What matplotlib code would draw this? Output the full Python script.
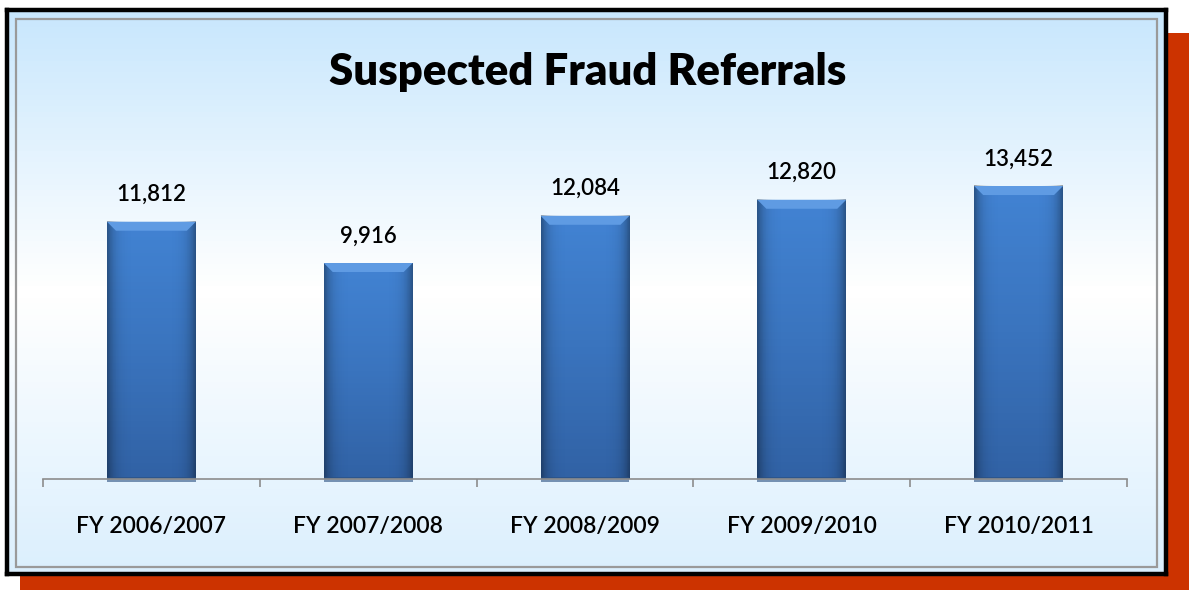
import numpy as np
import matplotlib
matplotlib.use('agg')
from matplotlib import pyplot as plt
from matplotlib.patches import Rectangle, Polygon
from matplotlib.colors import LinearSegmentedColormap

# Data
years = ['FY 2006/2007', 'FY 2007/2008', 'FY 2008/2009', 'FY 2009/2010', 'FY 2010/2011']
referrals = [11812, 9916, 12084, 12820, 13452]
title = 'Suspected Fraud Referrals'

W, H = 1189, 590
FONT = ['Lato', 'DejaVu Sans']
plt.rcParams['font.family'] = FONT


def fx(px):
    return px / W


def fy(py):
    # pixel row (from top) -> figure fraction
    return 1 - py / H


fig = plt.figure(figsize=[W / 100, H / 100], dpi=100)
fig.patch.set_facecolor('white')

# Red drop shadow behind the box
fig.patches.append(Rectangle((fx(20), 0), fx(W - 20), fy(33), transform=fig.transFigure,
                             facecolor='#CC3300', edgecolor='none', zorder=0))

# Box with vertical gradient (blue - white - blue)
bg = fig.add_axes([fx(7), fy(574), fx(1166 - 7), (574 - 10) / H], zorder=1)
grad = np.concatenate([np.linspace(0, 1, 50), np.linspace(1, 0.35, 50)])[:, None]
bgcmap = LinearSegmentedColormap.from_list('bg', ['#C8E7FD', '#FFFFFF'])
bg.imshow(grad, aspect='auto', cmap=bgcmap, extent=[0, 1, 0, 1], origin='upper', vmin=0, vmax=1)
bg.set_xticks([])
bg.set_yticks([])
for s in bg.spines.values():
    s.set_color('black')
    s.set_linewidth(3.2)
# inner grey frame
bg.add_patch(Rectangle((9 / 1159, 7 / 564), 1141 / 1159, 548 / 564, transform=bg.transAxes,
                       facecolor='none', edgecolor='#9A9A9A', lw=1.6))

# Title
fig.text(0.494, fy(72), title, ha='center', va='center', fontsize=31.5, fontweight='heavy',
         color='black', zorder=5)

# Main bar axes
ymax = 16000
ax = fig.add_axes([fx(43), fy(479), fx(1127 - 43), (479 - 130.5) / H], zorder=2)
ax.patch.set_alpha(0)
x = np.arange(len(years))
bars = ax.bar(x, referrals, width=0.41, color='#3A78C4', edgecolor='none', zorder=2)
ax.set_xlim(-0.5, len(years) - 0.5)
ax.set_ylim(0, ymax)

# bar shading: lighter at the top, darker near the base
bar_cmap = LinearSegmentedColormap.from_list('bar', ['#3162A5', '#3A74BE', '#4283D3'])
px_y = ymax / 348.5      # data units per pixel (y)
px_x = 5 / 1084          # data units per pixel (x)
for b in bars:
    x0, w, h = b.get_x(), b.get_width(), b.get_height()
    gy = np.linspace(0, 1, 80)[:, None] * np.ones((1, 2))
    img = ax.imshow(gy, cmap=bar_cmap, aspect='auto', origin='lower',
                    extent=[x0, x0 + w, 0, h], zorder=2.1, vmin=0, vmax=1)
    img.set_clip_path(b)
    # soft edges left/right
    edge = np.abs(np.linspace(-1, 1, 60)) ** 6 * 0.35
    ax.imshow(np.dstack([np.zeros((2, 60, 3)), np.repeat(edge[None, :], 2, axis=0)]),
              aspect='auto', extent=[x0, x0 + w, 0, h], zorder=2.2)
    # bevel on top
    dx = 9 * px_x
    dy = 9 * px_y
    ax.add_patch(Polygon([[x0, h], [x0 + w, h], [x0 + w - dx, h - dy], [x0 + dx, h - dy]],
                         closed=True, facecolor='#5F9BE3', edgecolor='none', zorder=2.3))
    # shadow at the base
    ax.add_patch(Rectangle((x0, -3 * px_y), w, 5 * px_y, facecolor='#2A4F80', alpha=0.6,
                           edgecolor='none', zorder=2.4, clip_on=False))
    ax.annotate(f'{h:,.0f}', (x0 + w / 2, h), xytext=(0, 12), textcoords='offset points',
                ha='center', va='bottom', fontsize=16, fontweight='semibold', color='black')

for s in ['top', 'right', 'left']:
    ax.spines[s].set_visible(False)
ax.spines['bottom'].set_color('#8C8C8C')
ax.spines['bottom'].set_linewidth(1.2)
ax.set_yticks([])
ax.set_xticks(x)
ax.set_xticklabels(years, fontsize=16.5, fontweight='semibold', color='black')
ax.tick_params(axis='x', which='major', length=0, pad=27)
ax.set_xticks(np.arange(len(years) + 1) - 0.5, minor=True)
ax.tick_params(axis='x', which='minor', length=6, width=1.2, color='#8C8C8C')

fig.savefig('out.png', dpi=100)
